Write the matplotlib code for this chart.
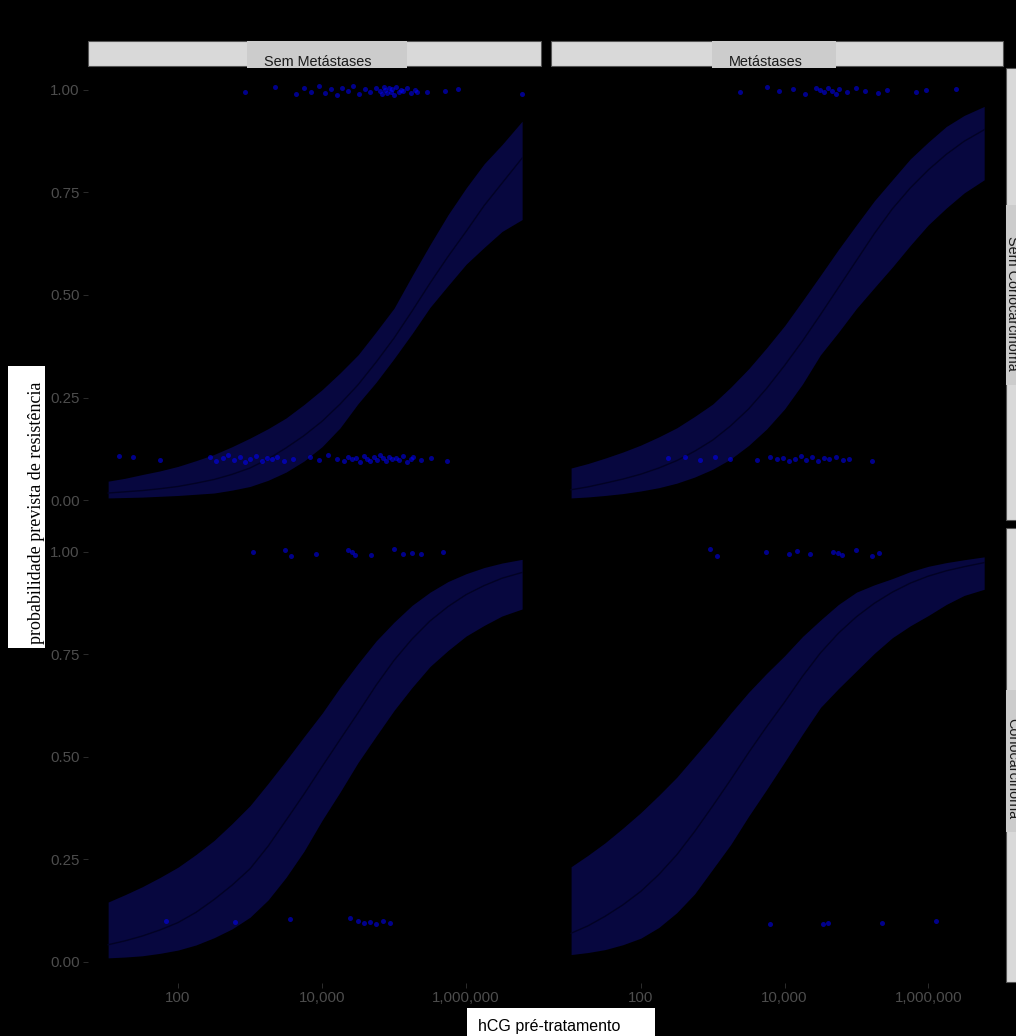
import numpy as np
import matplotlib
matplotlib.use("Agg")
import matplotlib.pyplot as plt
from matplotlib.patches import Rectangle

# ---------------- data ----------------
col_labels = ["Sem Metástases", "Metástases"]
row_labels = ["Sem Coriocarcinoma", "Coriocarcinoma"]
x_label = "hCG pré-tratamento"
y_label = "probabilidade prevista de resistência"
x_ticks = [100, 10000, 1000000]
x_ticklabels = ["100", "10,000", "1,000,000"]
y_ticks = [0.0, 0.25, 0.5, 0.75, 1.0]
y_ticklabels = ["0.00", "0.25", "0.50", "0.75", "1.00"]

hcg_grid = [10.7, 18.4, 31.6, 56.2, 100, 178, 316, 562, 1000, 1780, 3160, 5620,
            10000, 17800, 31600, 56200, 100000, 178000, 316000, 562000,
            1000000, 1780000, 3160000, 6000000]

# top-left: Sem Metástases / Sem Coriocarcinoma
tl_fit = [0.017, 0.020, 0.023, 0.0275, 0.033, 0.041, 0.050, 0.0625, 0.078, 0.100, 0.127, 0.157,
          0.192, 0.234, 0.281, 0.336, 0.395, 0.461, 0.529, 0.594, 0.655, 0.718, 0.773, 0.834]
tl_lo = [0.005, 0.006, 0.007, 0.009, 0.011, 0.014, 0.017, 0.024, 0.033, 0.048, 0.068, 0.095,
         0.130, 0.176, 0.235, 0.287, 0.345, 0.406, 0.470, 0.523, 0.575, 0.616, 0.655, 0.684]
tl_hi = [0.046, 0.053, 0.062, 0.071, 0.082, 0.096, 0.111, 0.130, 0.151, 0.174, 0.200, 0.233,
         0.269, 0.310, 0.354, 0.410, 0.468, 0.547, 0.623, 0.696, 0.761, 0.820, 0.867, 0.924]
# top-right: Metástases / Sem Coriocarcinoma
tr_fit = [0.025, 0.032, 0.041, 0.051, 0.063, 0.078, 0.096, 0.119, 0.146, 0.181, 0.222, 0.272,
          0.328, 0.388, 0.452, 0.518, 0.584, 0.650, 0.710, 0.761, 0.805, 0.843, 0.875, 0.903]
tr_lo = [0.005, 0.0074, 0.011, 0.0156, 0.022, 0.030, 0.041, 0.056, 0.075, 0.100, 0.133, 0.173,
         0.222, 0.283, 0.354, 0.409, 0.467, 0.518, 0.568, 0.621, 0.671, 0.712, 0.749, 0.781]
tr_hi = [0.078, 0.089, 0.102, 0.117, 0.134, 0.154, 0.176, 0.204, 0.234, 0.275, 0.320, 0.371,
         0.425, 0.486, 0.548, 0.611, 0.671, 0.730, 0.781, 0.832, 0.873, 0.911, 0.938, 0.960]
# bottom-left: Sem Metástases / Coriocarcinoma
bl_fit = [0.042, 0.0515, 0.063, 0.078, 0.096, 0.121, 0.152, 0.187, 0.227, 0.282, 0.345, 0.409,
          0.476, 0.542, 0.607, 0.674, 0.735, 0.787, 0.831, 0.866, 0.895, 0.917, 0.935, 0.949]
bl_lo = [0.010, 0.012, 0.015, 0.021, 0.029, 0.0415, 0.059, 0.0805, 0.109, 0.151, 0.206, 0.270,
         0.345, 0.414, 0.486, 0.550, 0.613, 0.669, 0.720, 0.759, 0.794, 0.820, 0.843, 0.860]
bl_hi = [0.146, 0.164, 0.183, 0.206, 0.231, 0.262, 0.296, 0.337, 0.381, 0.435, 0.491, 0.549,
         0.606, 0.669, 0.727, 0.782, 0.828, 0.869, 0.901, 0.927, 0.946, 0.961, 0.972, 0.981]
# bottom-right: Metástases / Coriocarcinoma
br_fit = [0.070, 0.088, 0.111, 0.139, 0.172, 0.213, 0.261, 0.318, 0.380, 0.444, 0.510, 0.573,
          0.633, 0.696, 0.753, 0.801, 0.841, 0.874, 0.901, 0.923, 0.940, 0.953, 0.963, 0.973]
br_lo = [0.018, 0.023, 0.030, 0.042, 0.058, 0.084, 0.120, 0.166, 0.226, 0.286, 0.355, 0.420,
         0.487, 0.555, 0.620, 0.666, 0.709, 0.752, 0.790, 0.819, 0.844, 0.871, 0.893, 0.908]
br_hi = [0.232, 0.260, 0.290, 0.326, 0.364, 0.406, 0.450, 0.501, 0.552, 0.606, 0.657, 0.703,
         0.746, 0.793, 0.833, 0.871, 0.901, 0.919, 0.934, 0.951, 0.964, 0.973, 0.980, 0.987]

# observed (jittered) points
tl_hi_x = [850, 2200, 4400, 5600, 7100, 9000, 11000, 13500, 16000, 19000, 23000, 27000, 33000,
           40000, 47000, 56000, 63000, 68000, 72000, 76000, 80000, 85000, 90000, 95000, 100000,
           108000, 116000, 125000, 135000, 150000, 170000, 195000, 210000, 290000, 510000, 780000, 6000000]
tl_hi_y = [0.995, 1.008, 0.990, 1.004, 0.996, 1.010, 0.993, 1.002, 0.988, 1.006, 0.997, 1.009, 0.991,
           1.003, 0.995, 1.005, 0.998, 0.990, 1.007, 1.000, 0.993, 1.006, 0.996, 1.002, 0.989,
           1.008, 0.994, 1.001, 0.997, 1.004, 0.992, 1.000, 0.995, 0.994, 0.998, 1.002, 0.990]
tl_lo_x = [15, 24, 56, 280, 340, 420, 500, 600, 720, 850, 1000, 1200, 1450, 1700, 2000, 2400,
           3000, 4000, 6800, 9000, 12000, 16000, 20000, 23000, 26000, 30000, 34000, 38000, 42000,
           47000, 52000, 58000, 64000, 70000, 77000, 85000, 95000, 105000, 118000, 132000, 150000,
           170000, 185000, 240000, 330000, 550000]
tl_lo_y = [0.108, 0.104, 0.097, 0.105, 0.095, 0.102, 0.110, 0.098, 0.104, 0.093, 0.101, 0.107,
           0.096, 0.103, 0.099, 0.106, 0.094, 0.100, 0.104, 0.097, 0.109, 0.101, 0.095, 0.105,
           0.099, 0.103, 0.092, 0.107, 0.100, 0.096, 0.104, 0.098, 0.110, 0.102, 0.094, 0.106,
           0.099, 0.103, 0.097, 0.108, 0.093, 0.101, 0.105, 0.098, 0.102, 0.096]
tr_hi_x = [2400, 5700, 8500, 13000, 19000, 27000, 31000, 35000, 40000, 46000, 52000, 58000, 74000,
           100000, 130000, 200000, 270000, 680000, 930000, 2450000]
tr_hi_y = [0.995, 1.008, 0.997, 1.003, 0.990, 1.006, 1.000, 0.994, 1.004, 0.997, 0.991, 1.002,
           0.996, 1.005, 0.998, 0.993, 1.001, 0.996, 0.999, 1.003]
tr_lo_x = [240, 410, 660, 1070, 1740, 4100, 6200, 7800, 9500, 11500, 14000, 17000, 20000, 24000,
           29000, 35000, 42000, 52000, 65000, 79000, 165000]
tr_lo_y = [0.102, 0.106, 0.098, 0.104, 0.100, 0.097, 0.105, 0.099, 0.103, 0.095, 0.101, 0.107,
           0.098, 0.104, 0.096, 0.102, 0.099, 0.105, 0.097, 0.101, 0.096]
bl_hi_x = [1100, 3100, 3700, 8300, 23000, 26000, 29000, 48000, 100000, 133000, 178000, 237000, 480000]
bl_hi_y = [1.000, 1.003, 0.990, 0.993, 1.004, 0.998, 0.992, 0.991, 1.005, 0.993, 0.996, 0.994, 1.000]
bl_lo_x = [68, 620, 3600, 24500, 31600, 38000, 46000, 56000, 70000, 87000]
bl_lo_y = [0.100, 0.098, 0.104, 0.106, 0.100, 0.094, 0.097, 0.092, 0.099, 0.095]
br_hi_x = [910, 1150, 5600, 11700, 14800, 22400, 47000, 56000, 63000, 100000, 166000, 209000]
br_hi_y = [1.005, 0.990, 0.998, 0.995, 1.002, 0.993, 1.000, 0.996, 0.991, 1.004, 0.989, 0.996]
br_lo_x = [6200, 34000, 40000, 229000, 1290000]
br_lo_y = [0.093, 0.092, 0.095, 0.094, 0.100]

panels = [
    dict(row=0, col=0, fit=tl_fit, lo=tl_lo, hi=tl_hi, px=[tl_hi_x, tl_lo_x], py=[tl_hi_y, tl_lo_y]),
    dict(row=0, col=1, fit=tr_fit, lo=tr_lo, hi=tr_hi, px=[tr_hi_x, tr_lo_x], py=[tr_hi_y, tr_lo_y]),
    dict(row=1, col=0, fit=bl_fit, lo=bl_lo, hi=bl_hi, px=[bl_hi_x, bl_lo_x], py=[bl_hi_y, bl_lo_y]),
    dict(row=1, col=1, fit=br_fit, lo=br_lo, hi=br_hi, px=[br_hi_x, br_lo_x], py=[br_hi_y, br_lo_y]),
]

# ---------------- layout (pixels) ----------------
W, H = 1016, 1036
fig = plt.figure(figsize=(W / 100, H / 100), dpi=100, facecolor="black")

def frect(x0, y0, x1, y1):
    return [x0 / W, 1 - y1 / H, (x1 - x0) / W, (y1 - y0) / H]

def fx(x):
    return x / W

def fy(y):
    return 1 - y / H

col_x = [(88, 541), (551, 1003)]
row_y = [(69.5, 520.5), (531, 982.5)]

SANS = ["Liberation Sans", "DejaVu Sans"]
GREY30 = "#4d4d4d"
RIBBON = "#07073f"
LINE = "#020224"

for p in panels:
    (x0, x1), (y0, y1) = col_x[p["col"]], row_y[p["row"]]
    ax = fig.add_axes(frect(x0, y0, x1, y1))
    ax.set_facecolor("black")
    ax.set_xscale("log")
    ax.set_xlim(10 ** 0.75, 10 ** 7.04)
    ax.set_ylim(-0.05, 1.05)
    for s in ax.spines.values():
        s.set_visible(False)
    ax.fill_between(hcg_grid, p["lo"], p["hi"], color=RIBBON, lw=0, zorder=2)
    ax.plot(hcg_grid, p["fit"], color=LINE, lw=1.0, zorder=3)
    for xs, ys in zip(p["px"], p["py"]):
        ax.scatter(xs, ys, s=13, color="#0000ff", alpha=0.55, lw=0, zorder=4)
    ax.set_xticks(x_ticks)
    ax.xaxis.set_minor_locator(matplotlib.ticker.NullLocator())
    ax.set_yticks(y_ticks)
    ax.tick_params(axis="both", colors="#333333", length=3.5, width=0.6,
                   labelcolor=GREY30, labelsize=10.8, pad=2.5)
    if p["row"] == 1:
        ax.set_xticklabels(x_ticklabels, fontfamily=SANS)
    else:
        ax.set_xticklabels([])
        ax.tick_params(axis="x", length=0)
    if p["col"] == 0:
        ax.set_yticklabels(y_ticklabels, fontfamily=SANS)
    else:
        ax.set_yticklabels([])
        ax.tick_params(axis="y", length=0)

# ---------------- strips ----------------
def box(x0, y0, x1, y1, fc, ec="none", lw=0):
    fig.add_artist(Rectangle((fx(x0), fy(y1)), (x1 - x0) / W, (y1 - y0) / H,
                             transform=fig.transFigure, facecolor=fc, edgecolor=ec, lw=lw))

# top strips
box(88, 41, 541, 66, "#d9d9d9", "#555555", 0.8)
box(551, 41, 1003, 66, "#d9d9d9", "#555555", 0.8)
box(247, 41, 407, 68, "#cccccc")
box(712, 41, 836, 68, "#cccccc")
fig.text(fx(317.5), fy(66), col_labels[0], ha="center", va="baseline", fontsize=10.4,
         color="#1a1a1a", fontfamily=SANS)
fig.text(fx(765.5), fy(66), col_labels[1], ha="center", va="baseline", fontsize=10.4,
         color="#1a1a1a", fontfamily=SANS)

# right strips
box(1006, 68, 1030, 520, "#d9d9d9", "#555555", 0.8)
box(1006, 528, 1030, 982, "#d9d9d9", "#555555", 0.8)
box(1006, 205, 1030, 385, "#cccccc")
box(1006, 690, 1030, 832, "#cccccc")
fig.text(fx(1008), fy(303), row_labels[0], ha="center", va="baseline", rotation=-90,
         rotation_mode="anchor", fontsize=10.4, color="#1a1a1a", fontfamily=SANS)
fig.text(fx(1008), fy(769), row_labels[1], ha="center", va="baseline", rotation=-90,
         rotation_mode="anchor", fontsize=10.4, color="#1a1a1a", fontfamily=SANS)

# ---------------- axis titles ----------------
box(8, 366, 45, 648, "white")
fig.text(fx(41), fy(513), y_label, ha="center", va="baseline", rotation=90,
         rotation_mode="anchor", fontsize=13, color="black",
         fontfamily=["Liberation Serif", "DejaVu Serif"])

box(467, 1008, 655, 1040, "white")
fig.text(fx(549), fy(1031), x_label, ha="center", va="baseline", fontsize=11.5,
         color="black", fontfamily=["Liberation Sans Narrow"] + SANS)

fig.savefig("out.png", dpi=100, facecolor="black")
